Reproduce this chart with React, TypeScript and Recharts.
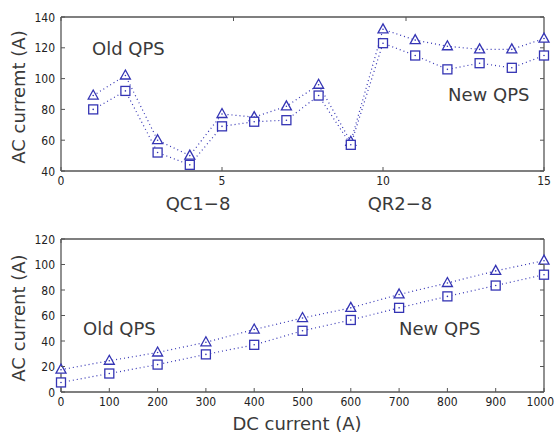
import React from 'react';
import { LineChart, Line, XAxis, YAxis } from 'recharts';

// top panel: QC1-8 / QR2-8 channels
const channels = [1, 2, 3, 4, 5, 6, 7, 8, 9, 10, 11, 12, 13, 14, 15];
const oldQpsCh = [89, 102, 60, 50, 77, 75, 82, 96, 59, 132, 125, 121, 119, 119, 126];
const newQpsCh = [80, 92, 52, 44, 69, 72, 73, 89, 57, 123, 115, 106, 110, 107, 115];
const chTicks = [0, 5, 10, 15];
const acTicksTop = [40, 60, 80, 100, 120, 140];

// bottom panel: vs DC current
const dcCurrent = [0, 100, 200, 300, 400, 500, 600, 700, 800, 900, 1000];
const oldQpsDc = [17.5, 24.5, 31, 39, 49, 58, 66, 76.5, 85.5, 95, 103];
const newQpsDc = [7.5, 14.5, 21.5, 29.5, 37, 48, 56.5, 66, 75, 83.5, 92];
const dcTicks = [0, 100, 200, 300, 400, 500, 600, 700, 800, 900, 1000];
const acTicksBottom = [0, 20, 40, 60, 80, 100, 120];

const topData = channels.map((c, i) => ({ ch: c, oldQps: oldQpsCh[i], newQps: newQpsCh[i] }));
const bottomData = dcCurrent.map((d, i) => ({ dc: d, oldQps: oldQpsDc[i], newQps: newQpsDc[i] }));

const BLUE = '#3434b4';
const AXIS = '#555';
const TEXT = '#3a3a3a';
const TICK_FONT = '"Liberation Sans Narrow", "DejaVu Sans Condensed", sans-serif';
const LABEL_FONT = '"DejaVu Sans", sans-serif';

const Triangle = (props: any) => {
  const { cx, cy } = props;
  if (cx == null || cy == null) return null;
  return (
    <g>
      <path d={`M${cx},${cy - 5.5} L${cx + 5},${cy + 3.5} L${cx - 5},${cy + 3.5} Z`} fill="#fff" stroke={BLUE} strokeWidth={1.3} />
      <circle cx={cx} cy={cy} r={0.8} fill={BLUE} />
    </g>
  );
};

const Square = (props: any) => {
  const { cx, cy } = props;
  if (cx == null || cy == null) return null;
  return (
    <g>
      <rect x={cx - 4.5} y={cy - 4.5} width={9} height={9} fill="#fff" stroke={BLUE} strokeWidth={1.3} />
      <circle cx={cx} cy={cy} r={0.8} fill={BLUE} />
    </g>
  );
};

// matlab-like inward ticks
const bottomTick = (props: any) => {
  const { x, y, payload } = props;
  // keep a long last label inside the page
  const atEdge = x > 530 && String(payload.value).length > 3;
  return (
    <g>
      <line x1={x} x2={x} y1={y} y2={y - 4} stroke={AXIS} />
      <text
        x={atEdge ? x + 10 : x}
        y={y + 14}
        textAnchor={atEdge ? 'end' : 'middle'}
        fontSize={12}
        fontFamily={TICK_FONT}
        fill="#222"
      >
        {payload.value}
      </text>
    </g>
  );
};

const topTick = (props: any) => {
  const { x, y } = props;
  return <line x1={x} x2={x} y1={y} y2={y + 4} stroke={AXIS} />;
};

const leftTick = (props: any) => {
  const { x, y, payload } = props;
  return (
    <g>
      <line x1={x} x2={x + 4} y1={y} y2={y} stroke={AXIS} />
      <text x={x - 6} y={y + 4.5} textAnchor="end" fontSize={12} fontFamily={TICK_FONT} fill="#222">
        {payload.value}
      </text>
    </g>
  );
};

const rightTick = (props: any) => {
  const { x, y } = props;
  return <line x1={x} x2={x - 4} y1={y} y2={y} stroke={AXIS} />;
};

const axisLine = { stroke: AXIS, strokeWidth: 1.3 };

interface PanelProps {
  data: any[];
  xKey: string;
  xDomain: [number, number];
  xTicks: number[];
  yDomain: [number, number];
  yTicks: number[];
  height: number;
  margin: { top: number; right: number; bottom: number; left: number };
}

// axes are 1px thick so recharts still draws them; margins account for that
const Panel: React.FC<PanelProps> = ({ data, xKey, xDomain, xTicks, yDomain, yTicks, height, margin }) => (
  <LineChart width={556} height={height} data={data} margin={margin}>
    <XAxis
      dataKey={xKey}
      type="number"
      domain={xDomain}
      ticks={xTicks}
      interval={0}
      height={1}
      tickSize={0}
      tickMargin={0}
      tickLine={false}
      axisLine={axisLine}
      tick={bottomTick}
    />
    <XAxis
      xAxisId="t"
      orientation="top"
      type="number"
      domain={xDomain}
      allowDataOverflow
      ticks={xTicks}
      interval={0}
      height={1}
      tickSize={0}
      tickMargin={0}
      tickLine={false}
      axisLine={axisLine}
      tick={topTick}
    />
    <YAxis
      type="number"
      domain={yDomain}
      ticks={yTicks}
      interval={0}
      width={1}
      tickSize={0}
      tickMargin={0}
      tickLine={false}
      axisLine={axisLine}
      tick={leftTick}
    />
    <YAxis
      yAxisId="r"
      orientation="right"
      type="number"
      domain={yDomain}
      allowDataOverflow
      ticks={yTicks}
      interval={0}
      width={1}
      tickSize={0}
      tickMargin={0}
      tickLine={false}
      axisLine={axisLine}
      tick={rightTick}
    />
    <Line
      dataKey="oldQps"
      stroke={BLUE}
      strokeWidth={1.2}
      strokeDasharray="1 3"
      dot={(p: any) => <Triangle key={`t-${p.index}`} {...p} />}
      isAnimationActive={false}
    />
    <Line
      dataKey="newQps"
      stroke={BLUE}
      strokeWidth={1.2}
      strokeDasharray="1 3"
      dot={(p: any) => <Square key={`s-${p.index}`} {...p} />}
      isAnimationActive={false}
    />
  </LineChart>
);

const labelStyle = { fontFamily: LABEL_FONT, fontSize: 18, fill: TEXT };

export default function App() {
  return (
    <div style={{ position: 'absolute', left: 0, top: 0, width: 556, height: 433, background: '#fff' }}>
      <div style={{ position: 'absolute', left: 0, top: 0 }}>
        <Panel
          data={topData}
          xKey="ch"
          xDomain={[0, 15]}
          xTicks={chTicks}
          yDomain={[40, 140]}
          yTicks={acTicksTop}
          height={220}
          margin={{ top: 16, right: 11, bottom: 48, left: 60 }}
        />
      </div>
      <div style={{ position: 'absolute', left: 0, top: 220 }}>
        <Panel
          data={bottomData}
          xKey="dc"
          xDomain={[0, 1000]}
          xTicks={dcTicks}
          yDomain={[0, 120]}
          yTicks={acTicksBottom}
          height={213}
          margin={{ top: 18, right: 11, bottom: 40, left: 60 }}
        />
      </div>
      <svg width={556} height={433} style={{ position: 'absolute', left: 0, top: 0, pointerEvents: 'none' }}>
        <text x={92} y={55} {...labelStyle}>Old QPS</text>
        <text x={448} y={101} {...labelStyle}>New QPS</text>
        <text x={83} y={335} {...labelStyle}>Old QPS</text>
        <text x={399} y={335} {...labelStyle}>New QPS</text>
        <text x={198} y={210} textAnchor="middle" {...labelStyle}>QC1−8</text>
        <text x={400} y={210} textAnchor="middle" {...labelStyle}>QR2−8</text>
        <text x={297} y={430} textAnchor="middle" {...labelStyle}>DC current (A)</text>
        <text x={25} y={97} textAnchor="middle" transform="rotate(-90 25 97)" {...labelStyle}>AC curremt (A)</text>
        <text x={25} y={318} textAnchor="middle" transform="rotate(-90 25 318)" {...labelStyle}>AC current (A)</text>
      </svg>
    </div>
  );
}
